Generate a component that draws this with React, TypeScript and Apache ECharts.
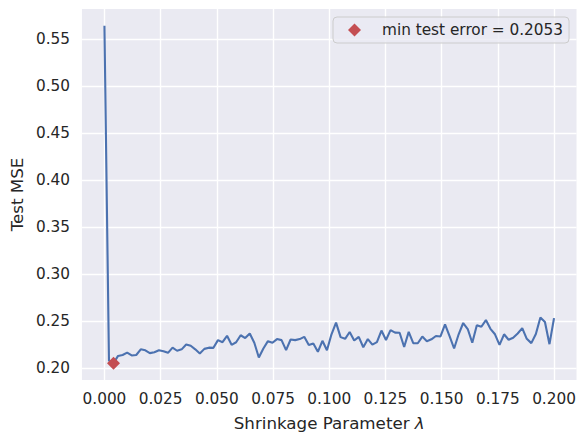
import React, { useEffect, useRef } from "react";
import * as echarts from "echarts";

// Test MSE for each shrinkage parameter (100 values of lambda from 0 to 0.2)
const testMSE: number[] = [
  0.564, 0.208, 0.2053, 0.213, 0.214, 0.2165, 0.2135, 0.214, 0.22, 0.219,
  0.216, 0.217, 0.219, 0.218, 0.2163, 0.2218, 0.2185, 0.22, 0.2252, 0.2238,
  0.22, 0.2156, 0.2205, 0.2218, 0.2216, 0.2298, 0.2276, 0.2344, 0.2248, 0.2275,
  0.235, 0.232, 0.2369, 0.227, 0.2113, 0.2209, 0.2287, 0.227, 0.2309, 0.2298,
  0.2191, 0.2305, 0.2298, 0.2309, 0.2333, 0.2245, 0.2262, 0.2174, 0.2291, 0.2191,
  0.236, 0.2484, 0.233, 0.2312, 0.2384, 0.2294, 0.2333, 0.2222, 0.2309, 0.225,
  0.2276, 0.24, 0.23, 0.2404, 0.2378, 0.2376, 0.2225, 0.2386, 0.2266, 0.2265,
  0.2336, 0.2287, 0.2307, 0.2342, 0.2337, 0.2465, 0.234, 0.2209, 0.236, 0.248,
  0.2416, 0.227, 0.2457, 0.244, 0.2511, 0.2418, 0.236, 0.2248, 0.236, 0.2302,
  0.2324, 0.2369, 0.2425, 0.2312, 0.2266, 0.2363, 0.2539, 0.249, 0.2255, 0.2532,
];
const LAMBDA_MAX = 0.2;
const lambdas: number[] = testMSE.map((_, i) => (i * LAMBDA_MAX) / (testMSE.length - 1));

const xTicks: number[] = [0, 0.025, 0.05, 0.075, 0.1, 0.125, 0.15, 0.175, 0.2];
const yTicks: number[] = [0.2, 0.25, 0.3, 0.35, 0.4, 0.45, 0.5, 0.55];

const FONT = "DejaVu Sans";
const TEXT = "#262626";

export default function App() {
  const ref = useRef<HTMLDivElement>(null);
  useEffect(() => {
    if (!ref.current) return;
    const chart = echarts.init(ref.current, undefined, { renderer: "svg" });
    let minIdx = 0;
    testMSE.forEach((v, i) => {
      if (v < testMSE[minIdx]) minIdx = i;
    });
    const minLabel = "min test error = " + testMSE[minIdx].toFixed(4);
    const lineData = lambdas.map((l, i) => [l, testMSE[i]]);

    chart.setOption({
      animation: false,
      backgroundColor: "#ffffff",
      grid: {
        left: 80.5,
        top: 9,
        width: 496,
        height: 371,
        show: true,
        backgroundColor: "#EAEAF2",
        borderWidth: 0,
        containLabel: false,
      },
      legend: {
        left: 333,
        top: 17,
        data: [minLabel],
        icon: "diamond",
        itemWidth: 13,
        itemHeight: 13,
        padding: [4, 6, 4, 15],
        backgroundColor: "rgba(234,234,242,0.8)",
        borderColor: "#cccccc",
        borderWidth: 1,
        borderRadius: 4,
        textStyle: {
          fontFamily: FONT,
          fontSize: 15.3,
          color: TEXT,
          lineHeight: 18,
          padding: [0, 0, 0, 16],
        },
      },
      xAxis: {
        type: "value",
        min: -0.01,
        max: 0.21,
        name: "{n|Shrinkage Parameter }{l|λ}",
        nameLocation: "middle",
        nameGap: 34,
        nameTextStyle: {
          rich: {
            n: { fontFamily: FONT, fontSize: 16.7, color: TEXT },
            l: { fontFamily: FONT, fontSize: 16.7, color: TEXT, fontStyle: "italic" },
          },
        },
        axisLine: { show: false },
        axisTick: { show: false, customValues: xTicks },
        axisLabel: {
          customValues: xTicks,
          formatter: (v: number) => v.toFixed(3),
          fontFamily: FONT,
          fontSize: 15.3,
          color: TEXT,
          margin: 11,
        },
        splitLine: { show: true, lineStyle: { color: "#ffffff", width: 1.4 } },
      },
      yAxis: {
        type: "value",
        min: 0.1874,
        max: 0.5819,
        name: "Test MSE",
        nameLocation: "middle",
        nameGap: 53,
        nameTextStyle: { fontFamily: FONT, fontSize: 16.7, color: TEXT },
        axisLine: { show: false },
        axisTick: { show: false, customValues: yTicks },
        axisLabel: {
          customValues: yTicks,
          formatter: (v: number) => v.toFixed(2),
          fontFamily: FONT,
          fontSize: 15.3,
          color: TEXT,
          margin: 12,
        },
        splitLine: { show: true, lineStyle: { color: "#ffffff", width: 1.4 } },
      },
      series: [
        {
          type: "line",
          name: "Test MSE",
          data: lineData,
          showSymbol: false,
          symbol: "none",
          lineStyle: { color: "#4C72B0", width: 2.1 },
          itemStyle: { color: "#4C72B0" },
          z: 2,
        },
        {
          type: "scatter",
          name: minLabel,
          data: [[lambdas[minIdx], testMSE[minIdx]]],
          symbol: "diamond",
          symbolSize: 13,
          itemStyle: { color: "#C44E52", opacity: 1 },
          z: 3,
        },
      ],
    });
    return () => chart.dispose();
  }, []);
  return (
    <div
      ref={ref}
      style={{ position: "fixed", left: 0, top: 0, width: 586, height: 445 }}
    />
  );
}
